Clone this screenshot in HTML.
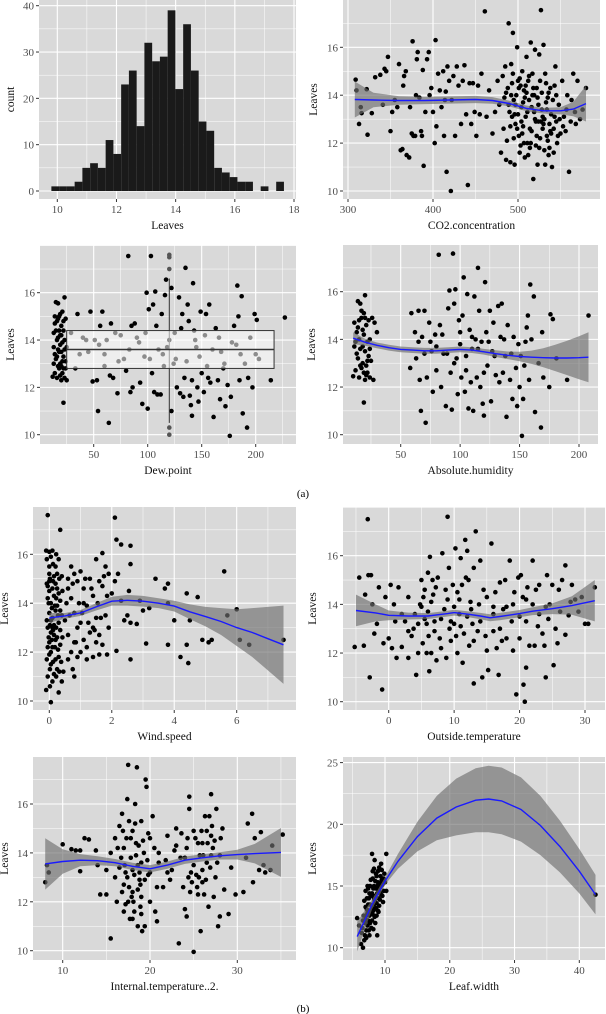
<!DOCTYPE html>
<html><head><meta charset="utf-8"><style>
html,body{margin:0;padding:0;background:#fff;}
svg{display:block;font-family:"Liberation Serif",serif;}
</style></head><body>
<svg id="fig" width="606" height="1014" viewBox="0 0 606 1014" xmlns="http://www.w3.org/2000/svg">
<text x="303" y="497" text-anchor="middle" font-size="11">(a)</text>
<text x="303" y="1012" text-anchor="middle" font-size="11">(b)</text>
</svg>
<script>
// ---------- data ----------
const histCounts=[1,1,1,2,5,6,5,11,8,23,26,14,32,28,29,39,22,36,26,15,13,5,4,3,2,2,0,1,0,2];
const histStart=9.8, histWidth=0.262;
const histXTicks=[10,12,14,16,18], histYTicks=[0,10,20,30,40];

const co2Pts=[[309,14.65],[310,14.2],[313,12.8],[315,13.5],[316,13.25],[322,14.25],[323,12.35],[328,13.25],[332,14.75],[338,14.85],[341,13.6],[343,15.1],[345,15.0],[347,15.6],[350,12.5],[352,13.3],[355,13.8],[358,13.5],[360,15.3],[362,11.7],[364,11.75],[365,14.4],[366,14.8],[368,15.0],[369,11.5],[372,11.4],[373,13.5],[375,12.4],[376,16.25],[377,12.3],[379,12.3],[380,14.0],[381,15.5],[382,15.8],[384,13.9],[386,12.5],[387,12.3],[388,15.05],[389,11.05],[391,13.3],[393,15.5],[395,15.8],[396,14.0],[398,14.3],[400,13.3],[402,12.0],[403,16.3],[404,12.7],[406,14.9],[408,14.2],[410,13.5],[412,15.0],[413,12.3],[414,13.8],[415,14.15],[416,10.8],[417,15.2],[419,14.6],[421,10.0],[422,13.8],[424,14.8],[426,12.3],[428,15.2],[430,14.4],[433,12.8],[435,14.6],[437,15.25],[439,13.2],[441,10.25],[443,14.5],[445,12.8],[447,14.5],[449,13.3],[451,12.3],[453,14.4],[455,13.2],[457,14.9],[461,17.5],[463,13.1],[466,14.2],[470,12.4],[473,13.3],[476,14.6],[478,13.6],[480,11.6],[482,14.8],[483,12.6],[484,13.9],[485,15.2],[486,11.3],[487,12.1],[488,14.3],[489,17.0],[490,13.3],[491,11.2],[492,15.3],[493,14.5],[494,16.6],[495,13.8],[496,11.1],[497,12.8],[498,14.0],[499,16.0],[500,13.2],[501,12.3],[502,14.7],[503,11.9],[504,13.5],[505,15.0],[506,12.7],[507,14.2],[508,11.4],[509,13.1],[510,15.6],[511,12.0],[512,14.6],[513,13.8],[514,11.8],[515,16.2],[516,12.5],[517,14.0],[518,10.5],[519,13.3],[520,15.9],[521,12.9],[522,14.3],[523,11.1],[524,13.6],[525,15.7],[526,12.2],[527,17.55],[528,14.1],[529,12.6],[530,16.1],[531,13.0],[532,11.1],[533,14.5],[534,12.3],[535,13.9],[536,11.5],[537,12.8],[538,14.3],[539,13.2],[540,11.0],[542,12.6],[544,15.2],[545,14.0],[546,12.0],[548,13.6],[550,12.4],[552,14.6],[554,13.1],[556,12.5],[558,14.0],[560,10.8],[562,12.9],[565,14.9],[567,13.3],[570,14.6],[573,13.0],[576,13.4],[580,14.3],[492,14.0],[497,13.6],[503,14.4],[508,13.9],[513,14.8],[518,14.3],[523,13.9],[528,13.4],[533,13.7],[538,12.5],[543,13.1],[495,12.2],[505,12.4],[515,12.0],[525,11.8],[535,12.1],[545,12.9],[500,14.6],[510,14.1],[520,13.0],[530,12.8],
[486,14.1],[489,13.6],[491,12.7],[494,14.9],[496,13.2],[499,12.6],[501,14.3],[504,12.9],[506,13.7],[509,14.4],[511,13.3],[514,12.6],[516,13.5],[519,14.0],[521,11.9],[524,12.9],[526,14.6],[529,13.1],[531,11.7],[534,13.4],[536,14.1],[539,12.4],[541,13.8],[543,14.4],[547,12.3],[549,13.0],[553,12.7],[557,13.4],[563,13.8],[568,12.8],[493,13.1],[507,12.0],[517,14.9],[527,12.9],[537,11.8],[512,11.5],[522,12.3],[502,11.6],[532,14.9],[542,11.6]];
const co2SmX=[308,330,360,390,420,450,470,490,510,530,550,565,580];
const co2SmY=[13.82,13.8,13.78,13.78,13.8,13.82,13.78,13.65,13.45,13.35,13.35,13.42,13.65];
const co2SmHW=[0.75,0.3,0.18,0.15,0.15,0.15,0.14,0.12,0.12,0.12,0.15,0.3,0.75];

const dewPts=[[12,12.45],[13,14.3],[13,13.7],[14,12.6],[14,14.7],[15,15.6],[15,13.2],[16,14.0],[16,12.4],[17,15.55],[17,13.6],[17,14.9],[18,12.8],[18,14.4],[19,13.0],[19,15.1],[19,14.2],[20,12.3],[20,13.5],[20,14.6],[21,15.2],[21,13.9],[21,12.6],[22,11.35],[22,14.8],[22,13.3],[23,15.8],[23,12.4],[23,14.0],[24,13.1],[24,14.9],[25,12.3],[25,13.7],[18,15.0],[16,14.8],[14,13.4],[20,12.9],[22,14.4],[24,12.8],[19,13.8],[13,13.0],[15,14.4],[17,12.9],[18,13.5],[20,14.2],[21,13.1],[23,13.6],[16,13.3],[19,12.5],[22,12.8],[14,15.0],[17,14.1],[29,14.3],[33,12.8],[35,15.1],[37,13.4],[40,14.1],[43,14.0],[47,15.2],[49,12.25],[51,14.0],[53,12.3],[54,11.0],[56,14.6],[58,15.2],[60,13.4],[62,14.0],[64,10.5],[65,12.5],[66,14.7],[68,12.4],[72,11.75],[73,13.1],[75,14.2],[80,12.7],[82,17.55],[84,11.8],[85,14.6],[86,12.0],[90,14.1],[93,12.2],[95,11.3],[97,13.3],[99,16.0],[100,11.1],[101,15.3],[103,17.55],[104,12.6],[105,15.5],[106,11.8],[107,16.05],[109,11.7],[110,13.6],[112,11.7],[113,15.1],[116,15.9],[117,16.55],[118,13.7],[122,16.2],[122,11.0],[124,13.0],[127,12.0],[129,15.8],[130,11.75],[132,15.1],[133,11.6],[134,12.4],[135,17.05],[137,15.5],[138,14.8],[139,11.65],[140,11.25],[141,12.3],[142,16.4],[141,10.8],[144,14.0],[146,12.0],[147,11.4],[149,15.2],[150,12.6],[152,11.8],[154,15.1],[156,12.4],[157,15.5],[158,12.2],[161,10.75],[163,14.5],[165,12.3],[167,11.5],[170,12.8],[172,11.2],[174,12.1],[176,9.95],[177,11.6],[180,14.6],[182,13.8],[183,16.3],[184,15.0],[185,12.3],[187,15.85],[188,10.9],[190,13.0],[192,10.3],[193,12.4],[197,12.0],[199,15.1],[200,13.4],[201,14.85],[203,13.2],[214,12.3],[227,14.95],[45,13.5],[55,13.8],[70,14.3],[78,13.2],[88,14.7],[92,13.9],[98,14.3],[102,13.2],[108,14.6],[114,13.4],[120,14.0],[126,13.2],[131,14.5],[136,13.1],[143,14.4],[148,13.3],[153,14.2],[160,13.6],[166,14.1],[171,13.0],[178,13.9],[186,13.4],[195,14.1],[60,12.9],[83,13.6],[115,12.9],[125,14.3],[145,13.7],[155,12.9],[168,13.5]];
const dewBox={xmin:25,xmax:217,q1:12.8,med:13.6,q3:14.4,wx:120,wlo:10.5,whi:16.6};
const dewOutliers=[17.6,17.5,17.0,10.3,10.0];

const absPts=[[10,12.45],[11,14.7],[11,13.7],[12,12.7],[13,14.3],[14,15.6],[14,13.2],[15,14.0],[15,12.4],[16,15.5],[16,13.6],[17,14.9],[17,12.8],[18,14.4],[18,13.0],[19,15.1],[19,14.2],[19,11.35],[20,12.3],[20,13.5],[20,15.85],[21,14.6],[21,12.9],[22,13.9],[22,12.6],[23,14.8],[23,13.3],[24,12.4],[24,14.0],[25,13.1],[26,14.9],[27,12.3],[28,14.7],[30,14.3],[17,15.2],[15,14.8],[13,13.4],[21,12.5],[12,13.9],[14,14.5],[16,12.9],[18,13.7],[20,14.9],[22,13.1],[24,13.6],[19,12.6],[58,12.8],[59,15.1],[62,14.3],[63,13.2],[65,15.2],[66,12.3],[67,11.0],[68,14.1],[70,15.2],[71,10.5],[72,12.4],[74,14.7],[76,13.5],[77,11.8],[79,14.2],[80,12.7],[82,17.55],[83,14.6],[84,12.0],[86,13.4],[88,11.2],[90,15.3],[91,16.05],[92,12.6],[93,11.05],[94,17.6],[95,15.5],[96,16.1],[97,13.2],[98,11.7],[99,14.8],[100,13.8],[101,12.4],[102,15.0],[103,16.6],[104,11.8],[105,13.3],[106,15.9],[107,11.1],[108,14.4],[109,12.2],[110,13.6],[111,11.0],[112,15.8],[113,14.0],[114,12.4],[115,17.0],[116,15.2],[117,12.0],[118,13.9],[119,11.3],[120,10.8],[121,16.4],[122,14.3],[123,12.9],[125,15.2],[126,11.4],[127,13.5],[128,14.7],[130,12.5],[132,15.4],[133,12.2],[134,14.1],[135,15.5],[136,12.6],[138,13.3],[139,10.75],[140,14.6],[142,12.3],[144,11.5],[145,14.1],[147,12.8],[148,11.2],[150,12.0],[151,13.3],[152,9.95],[153,11.5],[155,13.9],[156,14.5],[157,15.0],[158,12.3],[159,16.3],[160,14.0],[162,15.8],[163,10.95],[166,13.0],[168,10.3],[169,14.3],[170,12.4],[175,12.0],[176,15.05],[178,14.85],[181,13.2],[190,12.3],[208,15.0],[75,13.9],[85,14.2],[89,13.4],[95,13.0],[100,14.3],[105,12.7],[110,14.1],[115,13.6],[120,12.6],[124,13.9],[129,13.3],[137,14.0],[143,13.4],[149,13.8],[154,12.9],[80,13.7],[70,13.4],[65,13.9]];
const absSmX=[10,20,30,40,50,60,70,80,90,100,110,120,130,140,150,160,170,180,190,200,208];
const absSmY=[14.05,13.88,13.75,13.65,13.58,13.55,13.52,13.52,13.55,13.58,13.55,13.48,13.4,13.33,13.28,13.25,13.23,13.22,13.22,13.23,13.25];
const absSmHW=[0.25,0.15,0.12,0.12,0.12,0.12,0.12,0.12,0.12,0.12,0.12,0.12,0.14,0.16,0.2,0.28,0.4,0.55,0.72,0.9,1.05];

const windPts=[[-0.05,17.6],[0.35,17.0],[-0.1,16.15],[0.05,15.9],[0.1,16.15],[0.3,15.8],[0,15.5],[0.15,15.1],[0.25,15.2],[0.4,15.1],[0,14.9],[0.1,14.6],[0.2,14.8],[0.3,14.4],[-0.05,14.2],[0.05,14.0],[0.15,14.3],[0.25,13.9],[0.35,14.1],[0,13.6],[0.1,13.4],[0.2,13.7],[0.3,13.2],[-0.05,13.0],[0.05,12.8],[0.15,13.1],[0.25,12.6],[0.35,12.9],[0,12.4],[0.1,12.2],[0.2,12.5],[0.3,11.8],[0,11.9],[0.05,11.5],[0.15,11.1],[0.25,11.3],[-0.05,11.0],[0.1,10.8],[0.4,10.8],[-0.1,10.45],[0.3,10.35],[0.05,9.95],[0,15.2],[0.2,15.5],[0,14.5],[0.1,13.0],[0.35,12.3],[0.4,13.5],[0.05,12.0],[0.2,11.7],[-0.05,14.7],[0.05,13.3],[0.15,12.7],[-0.05,12.2],[0.25,14.6],[0.35,13.7],
[-0.08,15.8],[0.02,15.0],[0.12,14.9],[0.22,14.2],[-0.02,14.0],[0.08,13.8],[0.18,13.9],[0.28,13.5],[-0.08,13.3],[0.02,13.1],[0.12,12.9],[0.22,13.0],[-0.02,12.6],[0.08,12.5],[0.18,12.2],[0.28,12.1],[-0.08,11.7],[0.02,11.3],[0.12,11.6],[0.22,11.0],[0.32,11.2],[0.02,10.6],[-0.08,14.8],[0.32,15.0],[0.12,15.6],[0.42,14.5],[0.42,12.6],[0.38,11.6],[0.0,16.1],[0.22,16.0],
[0.6,15.0],[0.7,15.5],[0.7,14.2],[0.8,13.6],[0.6,12.7],[0.75,11.3],[0.8,11.0],[0.7,12.0],[0.9,14.9],[1.0,15.3],[1.1,14.6],[1.0,13.2],[1.1,12.5],[1.2,11.7],[1.0,12.0],[1.3,15.0],[1.4,14.3],[1.5,13.4],[1.5,12.4],[1.5,15.8],[1.6,12.7],[1.7,16.05],[1.7,14.7],[1.8,15.5],[1.8,13.5],[1.85,11.9],[1.9,15.2],[1.7,12.3],[1.3,12.8],[0.9,13.0],[0.55,14.0],[1.2,13.9],[0.65,13.5],[0.75,14.8],[0.85,12.4],[0.95,14.0],[1.05,13.6],[1.15,15.0],[1.25,13.2],[1.35,14.6],[1.45,12.9],[1.55,14.0],[1.65,13.4],[1.75,15.1],[1.85,14.3],[1.6,11.9],[0.6,11.7],[0.8,15.2],[1.2,12.2],[1.4,11.8],
[2.1,17.5],[2.15,16.6],[2.3,16.4],[2.6,16.35],[2.6,15.6],[2.2,15.2],[2.1,14.9],[2.3,14.1],[2.4,13.3],[2.15,12.05],[2.55,14.5],[2.6,13.2],[2.6,11.7],[2.8,13.15],[2.9,14.1],[3.0,13.7],[3.1,12.35],[3.2,13.8],[3.4,15.0],[3.7,14.6],[3.8,14.8],[3.8,14.0],[3.8,12.3],[4.0,13.3],[4.2,11.8],[4.4,14.4],[4.4,12.3],[4.45,11.55],[4.5,13.3],[4.75,14.25],[4.9,12.5],[5.1,12.4],[5.2,12.5],[5.6,15.3],[5.7,13.5],[6.0,13.75],[6.1,12.5],[6.4,12.3],[7.5,12.5],[2.5,13.5],[1.9,13.0],[2.0,14.4],[0.5,13.3],[0.45,11.2],[0.6,14.6],[0.8,12.4],[1.1,14.0],[1.4,13.0],[1.6,14.9],[0.9,11.8]];
const windSmX=[0,0.5,1,1.5,2,2.5,3,3.5,4,4.5,5,5.5,6,6.5,7,7.5];
const windSmY=[13.4,13.48,13.6,13.85,14.08,14.12,14.08,14.0,13.88,13.65,13.45,13.25,13.0,12.8,12.55,12.3];
const windSmHW=[0.2,0.12,0.12,0.15,0.18,0.22,0.22,0.2,0.22,0.3,0.4,0.55,0.75,1.0,1.3,1.6];

const outPts=[[-5.2,12.25],[-4.5,15.1],[-3.8,12.3],[-3.6,14.4],[-3.2,17.5],[-3.1,15.2],[-2.9,11.0],[-2.7,15.2],[-2.5,14.0],[-2.2,12.8],[-1.8,13.2],[-1.5,14.7],[-1,10.5],[-0.8,12.4],[-0.5,14.3],[0,12.6],[0.3,14.8],[0.5,12.2],[0.8,14.0],[1,13.3],[1.2,11.8],[1.5,14.7],[2,12.25],[2.5,13.3],[3,11.8],[3,14.3],[3.5,12.7],[3.8,13.0],[4.2,11.1],[4.5,12.0],[4.8,14.0],[5,15.0],[5.2,12.4],[5.5,14.6],[5.8,13.2],[6,15.3],[6.2,11.25],[6.3,15.95],[6.5,12.0],[6.8,14.4],[7,13.3],[7.3,11.7],[7.5,15.1],[7.8,12.6],[8.2,16.1],[8.5,13.8],[8.8,11.8],[9,17.6],[9.2,15.5],[9.5,12.5],[9.8,14.8],[10,13.2],[10.2,16.3],[10.5,12.0],[10.8,14.2],[11,15.9],[11.3,11.6],[11.7,16.65],[11.8,15.1],[12,16.2],[12.3,12.3],[12.6,13.8],[13,10.75],[13,15.5],[13.3,17.0],[13.6,12.9],[14,15.8],[14.3,11.0],[14.5,14.6],[15,12.1],[15.2,11.3],[15.7,16.5],[16,13.9],[16.5,12.2],[16.8,11.1],[17,14.9],[17.3,12.5],[17.8,15.0],[18.5,15.8],[18.8,13.3],[19.2,14.5],[19.5,10.3],[19.8,15.1],[20,12.6],[20.2,15.2],[20.6,10.7],[20.8,10.0],[21,11.4],[21.2,14.7],[21.5,12.3],[22,15.8],[22.3,12.3],[22.5,14.6],[23,14.8],[23.5,12.8],[23.8,12.3],[24,11.0],[24.2,15.2],[24.6,14.0],[25,14.8],[25.2,11.5],[25.5,13.0],[25.8,12.4],[26,14.6],[26.5,15.0],[27,15.6],[27,12.75],[27.5,13.55],[28,14.8],[28.5,14.2],[29,13.7],[29.5,14.3],[30,13.2],[30.5,13.2],[31.5,14.7],[2,13.6],[4,13.6],[6,13.7],[8,13.4],[10,13.9],[12,13.5],[14,13.3],[16,13.6],[18,13.9],[20,13.5],[22,14.0],[24,13.9],[9,14.2],[11,13.1],[15,14.3],[17,13.0],[19,14.0],[21,13.3],[5,13.9],[7,12.9],[13,12.5],[3,12.9],[5.5,13.4],[6.5,14.1],[9.5,13.3],[10.5,14.5],[11.5,12.8],[12.5,14.1],[16,12.9],[18,12.6],[21,14.2],[23,13.6],
[4.5,13.2],[5.3,14.3],[6.1,12.7],[7.2,14.7],[8,12.2],[8.7,14.6],[9.3,13.0],[10.3,12.7],[11.2,14.8],[12.8,13.2],[13.8,14.0],[14.8,12.7],[16.3,14.5],[17.5,13.8],[19,12.1],[20.5,14.3],[22.8,13.1],[24.4,13.4],[26.2,13.7],[27.8,14.1],[5.8,12.0],[6.7,15.0],[10.8,13.6],[12.2,15.0]];
const outSmX=[-5,-2,0,3,6,9,10,12,14,15.5,17,20,22,25,28,31.5];
const outSmY=[13.75,13.65,13.55,13.52,13.52,13.62,13.66,13.6,13.52,13.45,13.5,13.62,13.72,13.82,13.95,14.15];
const outSmHW=[0.65,0.35,0.2,0.14,0.12,0.12,0.12,0.12,0.13,0.14,0.15,0.15,0.16,0.22,0.38,0.85];

const intPts=[[8,12.8],[8.2,13.5],[8.4,13.2],[10,14.35],[11,14.15],[11.5,14.1],[12,13.25],[12,14.1],[12.5,14.6],[13,14.55],[13.8,14.1],[14,13.5],[14.3,12.3],[15,12.3],[15,13.3],[15.5,10.5],[15.5,14.0],[16,13.0],[16,14.6],[16.2,12.0],[16.5,15.1],[16.8,15.6],[17,14.2],[17,12.7],[17.2,11.9],[17.4,16.2],[17.5,17.6],[17.6,15.3],[17.8,13.8],[18,13.3],[18,12.4],[18,14.9],[18.2,11.6],[18.3,16.0],[18.5,17.5],[18.6,11.0],[18.7,14.3],[18.8,12.9],[19,15.3],[19,13.6],[19,12.2],[19.1,10.8],[19.4,11.0],[19.5,17.0],[19.6,16.7],[19.8,14.8],[20,12.0],[20,13.2],[20.3,15.5],[20.5,14.2],[20.6,11.6],[20.8,11.2],[21,13.6],[21.5,12.6],[22,14.7],[22.3,12.9],[22.5,13.3],[23,15.0],[23.3,10.3],[23.5,13.8],[23.8,12.6],[24,11.7],[24.2,11.4],[24.5,16.3],[24.5,15.8],[24.6,12.4],[25,9.95],[25,14.9],[25.3,13.1],[25.5,12.3],[25.8,10.8],[26,14.4],[26,12.8],[26.3,15.5],[26.5,13.6],[26.7,11.8],[27,16.4],[27,14.7],[27.3,12.2],[27.6,15.8],[27.8,11.0],[28,13.9],[28,11.4],[28.3,15.0],[28.5,12.5],[29,11.5],[29.3,13.4],[29.8,12.3],[30.7,12.4],[31,13.8],[31.2,15.2],[31.7,15.6],[31.8,12.8],[32,14.6],[32.5,13.3],[32.7,14.85],[33,13.5],[33.2,13.2],[33.8,13.3],[34,14.3],[35.2,14.75],[16.5,13.4],[17.5,12.0],[18.4,13.9],[19.3,14.0],[17.8,14.6],[18.9,12.7],[16.8,12.4],[24,13.8],[25,13.5],[26,13.3],[27,13.9],[26.5,14.9],[25.5,14.4],[23,14.3],[21,14.0],[22,13.2],[20,14.6],[24.8,12.8],[27.5,13.0],[19.8,13.1],[17.2,13.2],[18.1,12.0],[18.6,13.5],[17.7,11.3],[26.2,12.3],[27.2,14.2],[24.3,14.6],[25.7,13.9],
[16.3,14.2],[16.7,13.8],[17.1,13.5],[17.3,14.6],[17.6,12.6],[17.9,12.2],[18.2,13.1],[18.4,14.4],[18.6,12.5],[18.8,13.2],[18.9,11.8],[19.2,14.5],[19.4,12.9],[17.0,11.6],[18.0,11.3],[19.0,11.5],[16.9,14.9],[18.3,15.2],[19.7,13.7],[17.4,13.0],[24.2,14.2],[24.7,13.2],[25.2,14.6],[25.6,13.0],[25.9,14.9],[26.1,13.9],[26.4,12.9],[26.6,14.4],[26.9,13.4],[27.1,15.1],[27.4,14.5],[27.7,13.6],[28.1,14.6],[26.8,15.5],[25.4,12.6],[24.4,13.0],[23.6,14.8],[22.8,14.1],[21.8,13.7],[20.8,12.6]];
const intSmX=[8,10,12,14,16,18,20,22,24,26,28,30,32,35];
const intSmY=[13.55,13.65,13.7,13.68,13.6,13.45,13.35,13.5,13.7,13.8,13.88,13.93,13.97,14.02];
const intSmHW=[1.05,0.5,0.25,0.18,0.15,0.15,0.15,0.15,0.15,0.15,0.15,0.2,0.4,1.0];

const leafPts=[[5.7,12.4],[6.0,11.8],[6.3,10.3],[6.6,10.0],[6.4,11.2],[6.7,12.6],[6.8,13.8],[6.9,12.0],[7.0,14.6],[7.1,11.4],[7.2,13.1],[7.3,15.0],[7.4,12.2],[7.5,14.0],[7.6,11.0],[7.7,13.5],[7.8,15.5],[7.9,12.8],[8.0,14.4],[8.0,17.6],[8.1,16.2],[8.2,11.5],[8.2,13.0],[8.3,15.0],[8.4,12.5],[8.4,17.1],[8.5,14.2],[8.6,16.0],[8.7,13.6],[8.8,11.0],[8.9,15.3],[9.0,14.7],[9.0,12.9],[9.1,16.5],[9.2,13.9],[9.3,15.8],[9.4,14.3],[9.5,16.3],[9.6,15.1],[9.7,13.7],[9.8,14.6],[10.0,15.3],[10.2,17.6],[10.2,14.6],[9.9,16.0],[7.2,12.2],[7.6,12.6],[8.0,13.2],[8.3,14.0],[8.6,14.8],[8.9,13.0],[9.2,15.0],[7.0,13.3],[7.4,14.8],[7.8,14.2],[8.1,15.6],[8.5,12.0],[7.3,11.8],[6.9,11.0],[7.5,13.0],[8.7,15.8],[9.4,16.8],[7.1,12.6],[7.7,12.0],[8.3,13.5],[8.8,14.4],[9.5,15.5],
[6.5,11.6],[6.8,10.6],[7.0,12.3],[7.2,14.0],[7.4,13.5],[7.6,14.4],[7.8,13.0],[8.0,12.2],[8.2,14.8],[8.4,13.8],[8.6,13.2],[8.8,15.0],[9.0,14.0],[9.2,14.5],[9.4,15.3],[9.6,14.2],[9.8,15.6],[8.1,12.7],[7.9,11.6],[7.3,12.8],[8.5,15.4],[8.9,16.2],[7.7,15.0],[9.1,13.4],[6.6,12.2],[7.1,10.8],[8.3,16.4],[8.7,12.6],[9.3,14.9],[7.5,11.4],[42.5,14.3]];
const leafSmX=[5.7,8,10,12,15,18,21,24,26,28,31,34,37,40,42.5];
const leafSmY=[10.9,13.5,15.4,17.0,19.0,20.5,21.4,21.95,22.05,21.9,21.2,19.9,18.2,16.2,14.3];
const leafSmHW=[1.2,0.4,0.3,0.6,1.2,1.8,2.3,2.6,2.7,2.7,2.6,2.4,2.1,1.8,1.6];

// ---------- drawing ----------
const NS="http://www.w3.org/2000/svg";
const svg=document.getElementById('fig');
function mk(tag,attrs,parent){const e=document.createElementNS(NS,tag);for(const k in attrs)e.setAttribute(k,attrs[k]);(parent||svg).appendChild(e);return e;}
function lin(v0,p0,v1,p1){return v=>p0+(v-v0)*(p1-p0)/(v1-v0);}
let clipN=0;
function panel(c){
  const g=mk('g',{});
  
  
  const bg=mk('rect',{x:c.L,y:c.T,width:c.R-c.L,height:c.B-c.T,fill:'#d9d9d9'},g);
  
  
  const X=lin(c.xa[0],c.xa[1],c.xb[0],c.xb[1]), Y=lin(c.ya[0],c.ya[1],c.yb[0],c.yb[1]);
  const grid=mk('g',{stroke:'#fff'},g);
  const xt=c.xticks, yt=c.yticks, dx=xt[1]-xt[0], dy=yt[1]-yt[0];
  for(let v=xt[0]-dx/2; v<=xt[xt.length-1]+dx; v+=dx/2){const p=X(v); if(p>c.L&&p<c.R) mk('line',{x1:p,x2:p,y1:c.T,y2:c.B,'stroke-width':(Math.abs((v-xt[0])/dx-Math.round((v-xt[0])/dx))<1e-6)?1.1:0.5},grid);}
  for(let v=yt[0]-dy/2; v<=yt[yt.length-1]+dy; v+=dy/2){const p=Y(v); if(p>c.T&&p<c.B) mk('line',{y1:p,y2:p,x1:c.L,x2:c.R,'stroke-width':(Math.abs((v-yt[0])/dy-Math.round((v-yt[0])/dy))<1e-6)?1.1:0.5},grid);}
  const id='clip'+(clipN++);
  const cp=mk('clipPath',{id:id},g); mk('rect',{x:c.L,y:c.T,width:c.R-c.L,height:c.B-c.T},cp);
  const body=mk('g',{'clip-path':'url(#'+id+')'},g);
  xt.forEach(v=>{const p=X(v); mk('line',{x1:p,x2:p,y1:c.B,y2:c.B+3,stroke:'#333','stroke-width':1},g);
    const t=mk('text',{x:p,y:c.B+14,'text-anchor':'middle','font-size':11,fill:'#4d4d4d'},g); t.textContent=v;
     });
  yt.forEach(v=>{const p=Y(v); mk('line',{x1:c.L-3,x2:c.L,y1:p,y2:p,stroke:'#333','stroke-width':1},g);
    const t=mk('text',{x:c.L-5,y:p+4,'text-anchor':'end','font-size':11,fill:'#4d4d4d'},g); t.textContent=v;
     });
  const xtl=mk('text',{x:(c.L+c.R)/2,y:c.B+30,'text-anchor':'middle','font-size':11.5,fill:'#111'},g); xtl.textContent=c.xlab;
   
  const ytl=mk('text',{x:0,y:0,'text-anchor':'middle','font-size':11.5,fill:'#111',transform:`translate(${c.ylx},${(c.T+c.B)/2}) rotate(-90)`},g); ytl.textContent=c.ylab;
   
  return {X,Y,body};
}
function dots(pts,X,Y,parent,fill){pts.forEach(p=>{const c=mk('circle',{cx:X(p[0]),cy:Y(p[1]),r:2.3,fill:fill||'#000'},parent);
   });}
function smooth(xs,ys,hw,X,Y,parent){
  let d='M'; xs.forEach((x,i)=>{d+=(i?' L':'')+X(x).toFixed(1)+','+Y(ys[i]+hw[i]).toFixed(1);});
  for(let i=xs.length-1;i>=0;i--) d+=' L'+X(xs[i]).toFixed(1)+','+Y(ys[i]-hw[i]).toFixed(1);
  const band=mk('path',{d:d+'Z',fill:'#6e6e6e','fill-opacity':0.65},parent);
   
  let l=''; xs.forEach((x,i)=>{l+=(i?' L':'M')+X(x).toFixed(1)+','+Y(ys[i]).toFixed(1);});
  const line=mk('path',{d:l,fill:'none',stroke:'#1a1aff','stroke-width':1.4},parent);
   
}

{const p=panel({name:'leaves-histogram',L:39,R:296,T:0,B:199,xa:[10,57.3],xb:[18,294],ya:[0,191],yb:[40,5.7],xticks:histXTicks,yticks:histYTicks,xlab:'Leaves',ylab:'count',ylx:14});
 histCounts.forEach((n,i)=>{if(!n)return;const x0=histStart+i*histWidth;const r=mk('rect',{x:p.X(x0),y:p.Y(n),width:p.X(x0+histWidth)-p.X(x0),height:p.Y(0)-p.Y(n),fill:'#1a1a1a'},p.body);
   });}
{const p=panel({name:'co2-scatter',L:343,R:600,T:0,B:199,xa:[300,348],xb:[500,518],ya:[10,191],yb:[16,47.3],xticks:[300,400,500],yticks:[10,12,14,16],xlab:'CO2.concentration',ylab:'Leaves',ylx:317});
 dots(co2Pts,p.X,p.Y,p.body); smooth(co2SmX,co2SmY,co2SmHW,p.X,p.Y,p.body);}
{const p=panel({name:'dewpoint-boxplot',L:40,R:296,T:245,B:444,xa:[50,93.7],xb:[200,255.7],ya:[10,434.7],yb:[16,292.7],xticks:[50,100,150,200],yticks:[10,12,14,16],xlab:'Dew.point',ylab:'Leaves',ylx:14});
 dots(dewPts,p.X,p.Y,p.body);
 const b=dewBox, X=p.X, Y=p.Y;
 const w=mk('line',{x1:X(b.wx),x2:X(b.wx),y1:Y(b.whi),y2:Y(b.wlo),stroke:'#333','stroke-width':1},p.body);
  
 const bx=mk('rect',{x:X(b.xmin),y:Y(b.q3),width:X(b.xmax)-X(b.xmin),height:Y(b.q1)-Y(b.q3),fill:'#fff','fill-opacity':0.55,stroke:'#333','stroke-width':1},p.body);
  
 const md=mk('line',{x1:X(b.xmin),x2:X(b.xmax),y1:Y(b.med),y2:Y(b.med),stroke:'#333','stroke-width':1.6},p.body);
  
 dots(dewOutliers.map(v=>[b.wx,v]),X,Y,p.body,'#555');}
{const p=panel({name:'abs-humidity-scatter',L:343,R:598,T:245,B:444,xa:[50,400.7],xb:[200,579],ya:[10,434.7],yb:[16,291.7],xticks:[50,100,150,200],yticks:[10,12,14,16],xlab:'Absolute.humidity',ylab:'Leaves',ylx:315});
 dots(absPts,p.X,p.Y,p.body); smooth(absSmX,absSmY,absSmHW,p.X,p.Y,p.body);}
{const p=panel({name:'wind-speed-scatter',L:33,R:296,T:507,B:710,xa:[0,49.3],xb:[6,236.7],ya:[10,701],yb:[16,554.3],xticks:[0,2,4,6],yticks:[10,12,14,16],xlab:'Wind.speed',ylab:'Leaves',ylx:8});
 dots(windPts,p.X,p.Y,p.body); smooth(windSmX,windSmY,windSmHW,p.X,p.Y,p.body);}
{const p=panel({name:'outside-temp-scatter',L:343,R:605,T:507,B:710,xa:[0,388.7],xb:[30,585],ya:[10,701.7],yb:[16,555.7],xticks:[0,10,20,30],yticks:[10,12,14,16],xlab:'Outside.temperature',ylab:'Leaves',ylx:316});
 dots(outPts,p.X,p.Y,p.body); smooth(outSmX,outSmY,outSmHW,p.X,p.Y,p.body);}
{const p=panel({name:'internal-temp-scatter',L:33,R:296,T:757,B:960,xa:[10,62.7],xb:[30,237.3],ya:[10,950.7],yb:[16,804],xticks:[10,20,30],yticks:[10,12,14,16],xlab:'Internal.temperature..2.',ylab:'Leaves',ylx:8});
 dots(intPts,p.X,p.Y,p.body); smooth(intSmX,intSmY,intSmHW,p.X,p.Y,p.body);}
{const p=panel({name:'leaf-width-scatter',L:343,R:605,T:757,B:960,xa:[10,385],xb:[40,579.3],ya:[10,947.7],yb:[20,824.3],xticks:[10,20,30,40],yticks:[10,15,20,25],xlab:'Leaf.width',ylab:'Leaves',ylx:316});
 dots(leafPts,p.X,p.Y,p.body); smooth(leafSmX,leafSmY,leafSmHW,p.X,p.Y,p.body);}
</script>
</body></html>
